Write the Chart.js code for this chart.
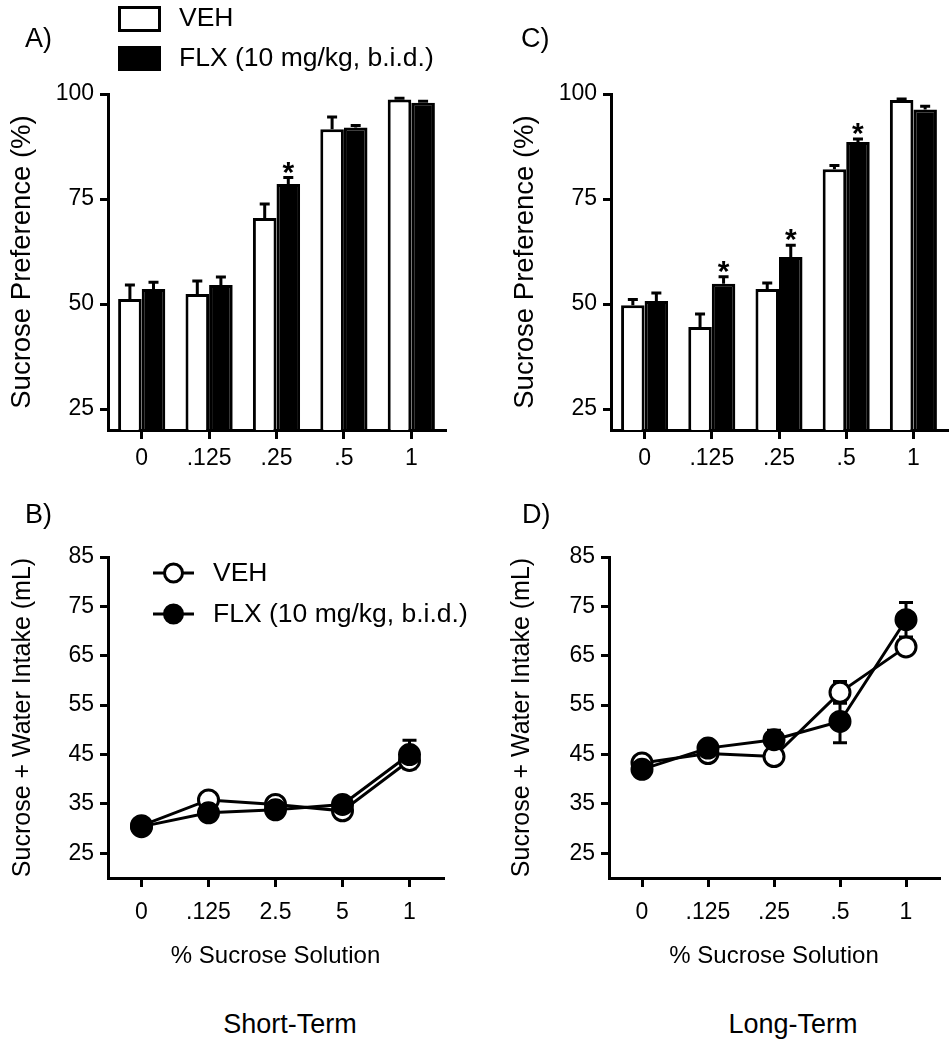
<!DOCTYPE html>
<html>
<head>
<meta charset="utf-8">
<title>Sucrose preference and intake</title>
<script src="https://cdn.jsdelivr.net/npm/chart.js@4.4.1/dist/chart.umd.min.js"></script>
<style>
  body { margin: 0; background: #fff; }
  #page { position: relative; width: 952px; height: 1050px; overflow: hidden; background: #fff;
          font-family: Arial, "Liberation Sans", Helvetica, sans-serif; color: #000; }
  .panel { position: absolute; }
  .panel canvas { display: block; }
  .lbl { position: absolute; font-size: 27px; line-height: 27px; white-space: nowrap; }
</style>
</head>
<body>
<div id="page">
  <div class="panel" style="left:0;top:0"><canvas id="chartA" width="476" height="480"></canvas></div>
  <div class="panel" style="left:476px;top:0"><canvas id="chartC" width="476" height="480"></canvas></div>
  <div class="panel" style="left:0;top:480px"><canvas id="chartB" width="476" height="500"></canvas></div>
  <div class="panel" style="left:476px;top:480px"><canvas id="chartD" width="476" height="500"></canvas></div>

  <div class="lbl" style="left:25px;top:25px">A)</div>
  <div class="lbl" style="left:521px;top:25px">C)</div>
  <div class="lbl" style="left:25px;top:501px">B)</div>
  <div class="lbl" style="left:522px;top:501px">D)</div>
  <div class="lbl" style="left:190px;top:1011px;width:200px;text-align:center">Short-Term</div>
  <div class="lbl" style="left:693px;top:1011px;width:200px;text-align:center">Long-Term</div>
</div>

<script>
// x categories (% sucrose)
const doseLabels = ['0', '.125', '.25', '.5', '1'];
const doseLabelsB = ['0', '.125', '2.5', '5', '1'];
const prefTicks = [25, 50, 75, 100];
const intakeTicks = [25, 35, 45, 55, 65, 75, 85];

// A) short-term sucrose preference (%)
const prefShortVeh = [51.2, 52.4, 70.5, 91.6, 98.7];
const prefShortVehErr = [3.3, 3.1, 3.3, 2.9, 0.3];
const prefShortFlx = [53.6, 54.5, 78.6, 92.0, 97.9];
const prefShortFlxErr = [1.6, 1.9, 1.5, 0.5, 0.4];
const prefShortSig = [false, false, true, false, false];

// C) long-term sucrose preference (%)
const prefLongVeh = [49.7, 44.5, 53.6, 82.1, 98.6];
const prefLongVehErr = [1.4, 3.1, 1.4, 0.9, 0.2];
const prefLongFlx = [50.7, 54.8, 61.2, 88.6, 96.3];
const prefLongFlxErr = [1.9, 1.7, 2.8, 0.7, 0.8];
const prefLongSig = [false, true, true, true, false];

// B) short-term intake (mL)
const intakeShortVeh = [30.6, 35.8, 34.9, 33.6, 43.8];
const intakeShortVehErr = [0.6, 0.8, 1.5, 0.8, 1.2];
const intakeShortFlx = [30.4, 33.2, 33.8, 34.9, 45.0];
const intakeShortFlxErr = [0.6, 0.7, 0.8, 0.8, 2.9];

// D) long-term intake (mL)
const intakeLongVeh = [43.3, 45.2, 44.6, 57.6, 66.8];
const intakeLongVehErr = [0.8, 0.8, 1.6, 2.2, 1.5];
const intakeLongFlx = [42.0, 46.3, 48.0, 51.7, 72.3];
const intakeLongFlxErr = [0.8, 0.8, 1.9, 4.3, 3.5];

const FONT = 'Arial, "Liberation Sans", Helvetica, sans-serif';
Chart.defaults.font.family = FONT;
Chart.defaults.color = '#000';

function xAxis(height, pad, title) {
    return {
        type: 'category',
        offset: true,
        grid: { display: true, offset: false, drawOnChartArea: false, drawTicks: true, tickLength: 9, color: '#000', lineWidth: 3 },
        border: { display: true, color: '#000', width: 3 },
        ticks: { font: { size: 23 }, padding: pad, maxRotation: 0, autoSkip: false },
        title: title
            ? { display: true, text: title, font: { size: 24 }, padding: { top: 0, bottom: 9 } }
            : { display: false },
        afterFit: s => { s.height = height; }
    };
}

function yAxis(min, max, tickVals, width, title, titleSize, titlePad) {
    return {
        type: 'linear',
        min: min,
        max: max,
        grid: { display: true, drawOnChartArea: false, drawTicks: true, tickLength: 8, color: '#000', lineWidth: 3 },
        border: { display: true, color: '#000', width: 3 },
        ticks: { font: { size: 23 }, padding: 6 },
        afterBuildTicks: s => { s.ticks = tickVals.map(v => ({ value: v })); },
        title: { display: true, text: title, font: { size: titleSize }, padding: { top: titlePad, bottom: 0 } },
        afterFit: s => { s.width = width; }
    };
}

// error bars: up only for bars, both ways for the line plots
function errorPlugin(errs, cap, bothSides) {
    const draw = chart => {
        const ctx = chart.ctx;
        const y = chart.scales.y;
        ctx.save();
        ctx.strokeStyle = '#000';
        ctx.lineWidth = 3;
        chart.data.datasets.forEach((ds, di) => {
            const meta = chart.getDatasetMeta(di);
            meta.data.forEach((el, i) => {
                const v = ds.data[i], e = errs[di][i];
                const yTop = y.getPixelForValue(v + e);
                const yBot = y.getPixelForValue(bothSides ? v - e : v);
                ctx.beginPath();
                ctx.moveTo(el.x, yBot);
                ctx.lineTo(el.x, yTop);
                ctx.moveTo(el.x - cap, yTop);
                ctx.lineTo(el.x + cap, yTop);
                if (bothSides) {
                    ctx.moveTo(el.x - cap, yBot);
                    ctx.lineTo(el.x + cap, yBot);
                }
                ctx.stroke();
            });
        });
        ctx.restore();
    };
    return bothSides
        ? { id: 'errorBars', beforeDatasetsDraw: draw }
        : { id: 'errorBars', afterDatasetsDraw: draw };
}

function starPlugin(sig, vals, errs) {
    return {
        id: 'stars',
        afterDatasetsDraw(chart) {
            const ctx = chart.ctx;
            const meta = chart.getDatasetMeta(1);
            ctx.save();
            ctx.fillStyle = '#000';
            ctx.font = 'bold 30px ' + FONT;
            ctx.textAlign = 'center';
            ctx.textBaseline = 'alphabetic';
            sig.forEach((s, i) => {
                if (!s) return;
                const yTop = chart.scales.y.getPixelForValue(vals[i] + errs[i]);
                ctx.fillText('*', meta.data[i].x, yTop + 4);
            });
            ctx.restore();
        }
    };
}

const barLegend = {
    id: 'barLegend',
    afterDraw(chart) {
        const ctx = chart.ctx;
        ctx.save();
        ctx.strokeStyle = '#000';
        ctx.fillStyle = '#000';
        ctx.lineWidth = 3;
        ctx.strokeRect(119.5, 7.5, 40, 23);
        ctx.fillRect(118, 46, 43, 25);
        ctx.font = '26.5px ' + FONT;
        ctx.textAlign = 'left';
        ctx.textBaseline = 'middle';
        ctx.fillText('VEH', 179, 19);
        ctx.fillText('FLX (10 mg/kg, b.i.d.)', 179, 59);
        ctx.restore();
    }
};

const lineLegend = {
    id: 'lineLegend',
    afterDraw(chart) {
        const ctx = chart.ctx;
        const rows = [{ y: 93, fill: '#fff', text: 'VEH' }, { y: 134, fill: '#000', text: 'FLX (10 mg/kg, b.i.d.)' }];
        ctx.save();
        ctx.strokeStyle = '#000';
        ctx.lineWidth = 3;
        ctx.font = '26.5px ' + FONT;
        ctx.textAlign = 'left';
        ctx.textBaseline = 'middle';
        rows.forEach(r => {
            ctx.beginPath();
            ctx.moveTo(153, r.y);
            ctx.lineTo(194, r.y);
            ctx.stroke();
            ctx.beginPath();
            ctx.arc(173.5, r.y, 9, 0, Math.PI * 2);
            ctx.fillStyle = r.fill;
            ctx.fill();
            ctx.stroke();
            ctx.fillStyle = '#000';
            ctx.fillText(r.text, 213, r.y + 1);
        });
        ctx.restore();
    }
};

function barChart(id, veh, vehErr, flx, flxErr, sig, yWidth, padRight, titlePad, extra) {
    const bar = { borderColor: '#000', borderWidth: 3, borderSkipped: false, barPercentage: 1.0, categoryPercentage: 0.7 };
    return new Chart(document.getElementById(id), {
        type: 'bar',
        data: {
            labels: doseLabels,
            datasets: [
                Object.assign({ label: 'VEH', data: veh, backgroundColor: '#fff' }, bar),
                Object.assign({ label: 'FLX (10 mg/kg, b.i.d.)', data: flx, backgroundColor: '#000' }, bar)
            ]
        },
        options: {
            responsive: false,
            animation: false,
            layout: { padding: { top: 94, right: padRight, bottom: 0, left: 0 } },
            plugins: { legend: { display: false }, tooltip: { enabled: false } },
            scales: {
                x: xAxis(50, 6, null),
                y: yAxis(20, 100, prefTicks, yWidth, 'Sucrose Preference (%)', 27.5, titlePad)
            }
        },
        plugins: [errorPlugin([vehErr, flxErr], 5, false), starPlugin(sig, flx, flxErr)].concat(extra)
    });
}

function lineChart(id, labels, veh, vehErr, flx, flxErr, yWidth, padRight, titlePad, extra) {
    const line = { borderColor: '#000', borderWidth: 3, tension: 0, fill: false,
                   pointRadius: 10, pointBorderWidth: 3, pointBorderColor: '#000' };
    return new Chart(document.getElementById(id), {
        type: 'line',
        data: {
            labels: labels,
            datasets: [
                Object.assign({ label: 'VEH', data: veh, pointBackgroundColor: '#fff', order: 1 }, line),
                Object.assign({ label: 'FLX (10 mg/kg, b.i.d.)', data: flx, pointBackgroundColor: '#000', order: 0 }, line)
            ]
        },
        options: {
            responsive: false,
            animation: false,
            layout: { padding: { top: 77, right: padRight, bottom: 0, left: 0 } },
            plugins: { legend: { display: false }, tooltip: { enabled: false } },
            scales: {
                x: xAxis(102, 12, '% Sucrose Solution'),
                y: yAxis(20, 85, intakeTicks, yWidth, 'Sucrose + Water Intake (mL)', 25, titlePad)
            }
        },
        plugins: [errorPlugin([vehErr, flxErr], 7, true)].concat(extra)
    });
}

barChart('chartA', prefShortVeh, prefShortVehErr, prefShortFlx, prefShortFlxErr, prefShortSig, 108, 31, 6, [barLegend]);
barChart('chartC', prefLongVeh, prefLongVehErr, prefLongFlx, prefLongFlxErr, prefLongSig, 135, 5, 33, []);
lineChart('chartB', doseLabelsB, intakeShortVeh, intakeShortVehErr, intakeShortFlx, intakeShortFlxErr, 108, 33, 8, [lineLegend]);
lineChart('chartD', doseLabels, intakeLongVeh, intakeLongVehErr, intakeLongFlx, intakeLongFlxErr, 133, 6, 31, []);
</script>
</body>
</html>
